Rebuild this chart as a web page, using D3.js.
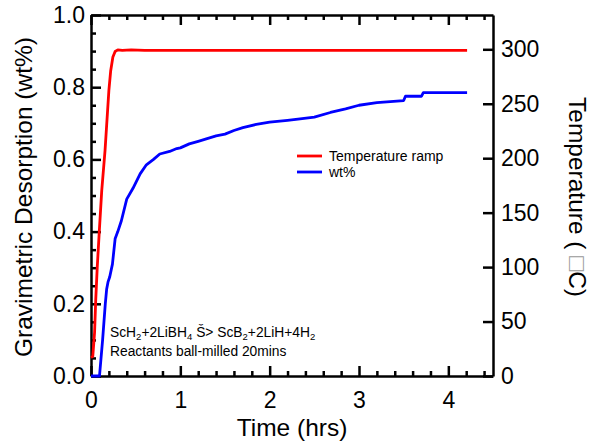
<!DOCTYPE html>
<html><head><meta charset="utf-8">
<script src="https://cdn.jsdelivr.net/npm/d3@7"></script>
<style>body{margin:0;background:#fff}svg{display:block}text{font-family:"Liberation Sans",Arial,sans-serif}</style>
</head><body><svg id="c" width="594" height="445"></svg>
<script>
// Temperature ramp (hrs, °C)
const tempTime = [0.0, 0.02, 0.04, 0.053, 0.07, 0.093, 0.12, 0.157, 0.2, 0.22, 0.245, 0.27, 0.3, 0.35, 0.45, 0.6, 1.0, 1.5, 2.0, 2.5, 3.0, 3.5, 3.9, 4.0, 4.21];
const tempVals = [17, 18, 40, 70, 100, 133, 170, 207, 262, 280, 293, 298, 299.5, 299, 299.5, 299, 299, 299, 299, 299, 299, 299, 299, 299, 299];
// wt% desorption (hrs, wt%)
const wtTime = [0.0, 0.095, 0.13, 0.16, 0.175, 0.19, 0.21, 0.24, 0.27, 0.3, 0.34, 0.4, 0.47, 0.55, 0.62, 0.7, 0.77, 0.88, 0.96, 1.0, 1.1, 1.2, 1.4, 1.5, 1.6, 1.7, 1.85, 2.0, 2.2, 2.34, 2.5, 2.68, 2.85, 3.0, 3.2, 3.5, 3.52, 3.7, 3.72, 4.21];
const wtVals = [0.0, 0.0, 0.1, 0.2, 0.24, 0.26, 0.275, 0.31, 0.38, 0.4, 0.43, 0.49, 0.52, 0.56, 0.585, 0.6, 0.615, 0.622, 0.63, 0.632, 0.643, 0.65, 0.665, 0.67, 0.68, 0.688, 0.697, 0.703, 0.708, 0.712, 0.717, 0.73, 0.74, 0.75, 0.757, 0.763, 0.775, 0.775, 0.785, 0.785];
const xTicks = [0, 1, 2, 3, 4];
const yLeftTicks = [0.0, 0.2, 0.4, 0.6, 0.8, 1.0];
const yRightTicks = [0, 50, 100, 150, 200, 250, 300];

const svg = d3.select("#c");
const L = 91, R = 493, T = 15, B = 376;
const x = d3.scaleLinear().domain([0, 4.5]).range([L, R]);
const yL = d3.scaleLinear().domain([0, 1]).range([B, T]);
const yR = d3.scaleLinear().domain([0, 331.5]).range([B, T]);

const fs = "23px";
const ft = "24.5px";
// bottom axis
const xMinor = d3.range(0, 4.51, 0.2).filter(v => Math.abs(v - Math.round(v)) > 1e-6);
svg.append("g").attr("transform", `translate(0,${B})`)
  .call(d3.axisBottom(x).tickValues(xTicks).tickFormat(d3.format("d")).tickSizeInner(-10).tickSizeOuter(0).tickPadding(16));
svg.append("g").attr("transform", `translate(0,${B})`)
  .call(d3.axisBottom(x).tickValues(xMinor).tickFormat("").tickSizeInner(-5).tickSizeOuter(0)).select(".domain").remove();
// top axis
svg.append("g").attr("transform", `translate(0,${T})`)
  .call(d3.axisTop(x).tickValues(xTicks).tickFormat("").tickSizeInner(-10).tickSizeOuter(0));
svg.append("g").attr("transform", `translate(0,${T})`)
  .call(d3.axisTop(x).tickValues(xMinor).tickFormat("").tickSizeInner(-5).tickSizeOuter(0)).select(".domain").remove();
// left axis
const yMinor = d3.range(0, 1.001, 0.05).filter(v => Math.abs(v * 5 - Math.round(v * 5)) > 1e-6);
svg.append("g").attr("transform", `translate(${L},0)`)
  .call(d3.axisLeft(yL).tickValues(yLeftTicks).tickFormat(d3.format(".1f")).tickSizeInner(-10).tickSizeOuter(0).tickPadding(6));
svg.append("g").attr("transform", `translate(${L},0)`)
  .call(d3.axisLeft(yL).tickValues(yMinor).tickFormat("").tickSizeInner(-5).tickSizeOuter(0)).select(".domain").remove();
// right axis
svg.append("g").attr("transform", `translate(${R},0)`)
  .call(d3.axisRight(yR).tickValues(yRightTicks).tickFormat(d3.format("d")).tickSizeInner(-10).tickSizeOuter(0).tickPadding(8));

svg.selectAll(".domain").attr("stroke", "#000").attr("stroke-width", 2.5);
svg.selectAll(".tick line").attr("stroke", "#000").attr("stroke-width", 2.5);
svg.selectAll(".tick text").attr("font-size", fs).attr("fill", "#000").style("font-family", '"Liberation Sans",Arial,sans-serif');

// data lines
const tempData = tempTime.map((t, i) => [t, tempVals[i]]);
const wtData = wtTime.map((t, i) => [t, wtVals[i]]);
svg.append("path").datum(wtData)
  .attr("d", d3.line().x(d => x(d[0])).y(d => yL(d[1])))
  .attr("fill", "none").attr("stroke", "#0000ff").attr("stroke-width", 2.8).attr("stroke-linejoin", "round");
svg.append("path").datum(tempData)
  .attr("d", d3.line().x(d => x(d[0])).y(d => yR(d[1])))
  .attr("fill", "none").attr("stroke", "#ff0000").attr("stroke-width", 2.8).attr("stroke-linejoin", "round");

// legend
const leg = [["Temperature ramp", "#ff0000"], ["wt%", "#0000ff"]];
leg.forEach((d, i) => {
  const yy = 156 + i * 16;
  svg.append("line").attr("x1", 297).attr("x2", 322).attr("y1", yy).attr("y2", yy).attr("stroke", d[1]).attr("stroke-width", 2.8);
  svg.append("text").attr("x", 329).attr("y", yy + 5).attr("font-size", "14px").text(d[0]);
});

// annotation
const fa = "13.8px", fsub = "9.5px";
const a1 = svg.append("text").attr("x", 110).attr("y", 337).attr("font-size", fa);
a1.append("tspan").text("ScH");
a1.append("tspan").attr("font-size", fsub).attr("dy", 3).text("2");
a1.append("tspan").attr("dy", -3).text("+2LiBH");
a1.append("tspan").attr("font-size", fsub).attr("dy", 3).text("4");
a1.append("tspan").attr("dy", -3).text(" Š> ScB");
a1.append("tspan").attr("font-size", fsub).attr("dy", 3).text("2");
a1.append("tspan").attr("dy", -3).text("+2LiH+4H");
a1.append("tspan").attr("font-size", fsub).attr("dy", 3).text("2");
svg.append("text").attr("x", 110).attr("y", 356).attr("font-size", fa).text("Reactants ball-milled 20mins");

// axis titles
svg.append("text").attr("x", 292).attr("y", 436).attr("text-anchor", "middle").attr("font-size", ft).text("Time (hrs)");
svg.append("text").attr("transform", "translate(32,197) rotate(-90)").attr("text-anchor", "middle").attr("font-size", ft).text("Gravimetric Desorption (wt%)");
const rt = svg.append("text").attr("transform", "translate(569,197) rotate(90)").attr("text-anchor", "middle").attr("font-size", ft);
rt.append("tspan").text("Temperature ( ");
rt.append("tspan").attr("fill", "#999").text("□");
rt.append("tspan").text("C)");
</script></body></html>
